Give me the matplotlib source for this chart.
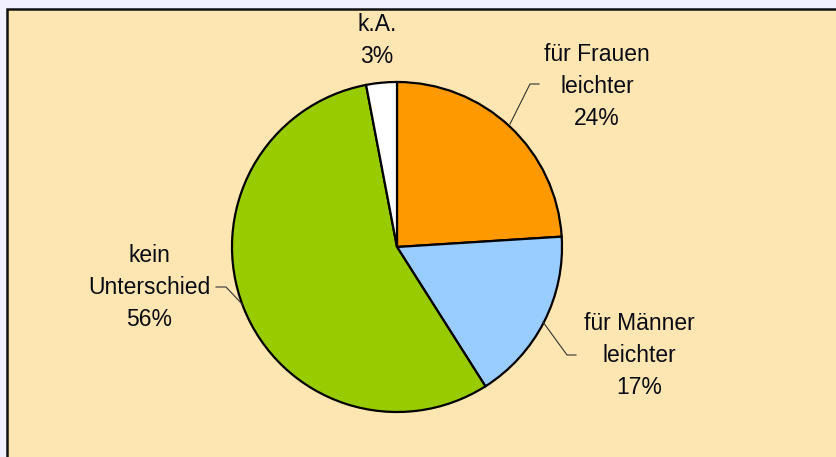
import matplotlib.pyplot as plt
from matplotlib.patches import Rectangle

## Daten
labels = ['für Frauen\nleichter\n24%', 'für Männer\nleichter\n17%', 'kein\nUnterschied\n56%', 'k.A.\n3%']
werte = [24, 17, 56, 3]
farben = ['#FF9900', '#99CCFF', '#99CC00', '#FFFFFF']

W, H = 837, 457
fig = plt.figure(figsize=(W / 100, H / 100), dpi=100, facecolor='#F0F0FF')
ax = fig.add_axes([0, 0, 1, 1])
ax.set_xlim(0, W)
ax.set_ylim(0, H)
ax.set_aspect('equal')
ax.axis('off')

# Hintergrund mit Rahmen
ax.add_patch(Rectangle((7, -5), W, H - 9 + 5, facecolor='#FDE6B1',
                       edgecolor='#111111', linewidth=1.8, zorder=0))

cx, cy, r = 397, H - 247, 165
ax.pie(werte, colors=farben, startangle=90, counterclock=False,
       center=(cx, cy), radius=r, frame=True,
       wedgeprops=dict(edgecolor='black', linewidth=1.6))
ax.set_xlim(0, W)
ax.set_ylim(0, H)
ax.axis('off')

# Beschriftungen (Pixelposition, Zentrum)
pos = [(597, 86), (639, 356), (149, 288), (377, 40)]
for txt, (px, py) in zip(labels, pos):
    ax.text(px, H - py, txt, ha='center', va='center', fontsize=16.5,
            family='Liberation Sans', color='#0a0a14', linespacing=1.5)

# Führungslinien
linien = [[(510, 124), (530, 84), (539, 84)],
          [(543, 322), (567, 355), (576, 355)],
          [(216, 287), (226, 287), (243, 305)]]
for pts in linien:
    xs = [p[0] for p in pts]
    ys = [H - p[1] for p in pts]
    ax.plot(xs, ys, color='#333333', linewidth=0.8)

fig.savefig('out.png', dpi=100, facecolor=fig.get_facecolor())
